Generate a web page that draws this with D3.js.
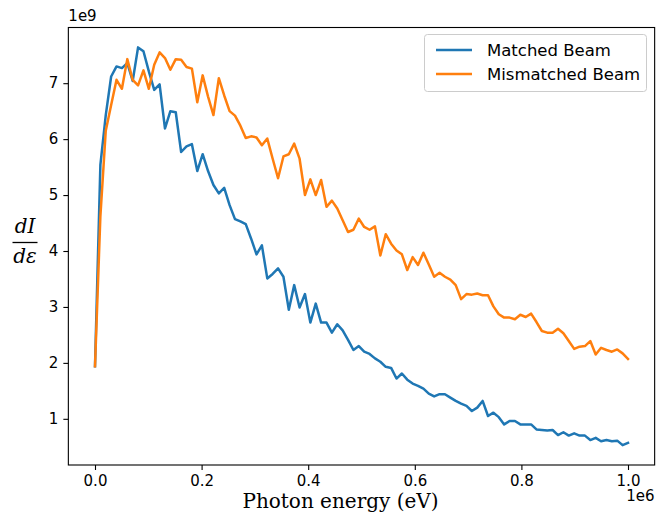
<!DOCTYPE html>
<html>
<head>
<meta charset="utf-8">
<script src="https://cdn.jsdelivr.net/npm/d3@7"></script>
<style>
  html, body { margin: 0; padding: 0; background: #fff; }
  svg { display: block; }
</style>
</head>
<body>
<svg id="chart" width="670" height="523"></svg>
<script>
// Photon energy grid (eV)
const photonEnergy = [
  0, 10101, 20202, 30303, 40404, 50505, 60606, 70707, 80808, 90909,
  101010, 111111, 121212, 131313, 141414, 151515, 161616, 171717, 181818, 191919,
  202020, 212121, 222222, 232323, 242424, 252525, 262626, 272727, 282828, 292929,
  303030, 313131, 323232, 333333, 343434, 353535, 363636, 373737, 383838, 393939,
  404040, 414141, 424242, 434343, 444444, 454545, 464646, 474747, 484848, 494949,
  505051, 515152, 525253, 535354, 545455, 555556, 565657, 575758, 585859, 595960,
  606061, 616162, 626263, 636364, 646465, 656566, 666667, 676768, 686869, 696970,
  707071, 717172, 727273, 737374, 747475, 757576, 767677, 777778, 787879, 797980,
  808081, 818182, 828283, 838384, 848485, 858586, 868687, 878788, 888889, 898990,
  909091, 919192, 929293, 939394, 949495, 959596, 969697, 979798, 989899, 1000000
];

// dI/dε spectra, in units of 1e9
const matchedBeam = [
  1.94, 5.54, 6.43, 7.12, 7.30, 7.27, 7.36, 7.04, 7.64, 7.57,
  7.21, 6.88, 6.98, 6.19, 6.50, 6.48, 5.77, 5.87, 5.91, 5.43,
  5.73, 5.43, 5.18, 5.03, 5.13, 4.82, 4.57, 4.53, 4.48, 4.22,
  3.94, 4.10, 3.51, 3.59, 3.69, 3.54, 2.95, 3.39, 2.99, 3.23,
  2.72, 3.06, 2.72, 2.72, 2.54, 2.69, 2.58, 2.41, 2.23, 2.30,
  2.20, 2.16, 2.08, 2.02, 1.93, 1.91, 1.72, 1.81, 1.70, 1.63,
  1.59, 1.54, 1.45, 1.40, 1.44, 1.44, 1.38, 1.32, 1.27, 1.23,
  1.14, 1.20, 1.32, 1.05, 1.11, 1.03, 0.90, 0.96, 0.96, 0.90,
  0.90, 0.90, 0.81, 0.80, 0.79, 0.80, 0.71, 0.76, 0.70, 0.74,
  0.70, 0.70, 0.62, 0.66, 0.60, 0.62, 0.60, 0.61, 0.53, 0.57
];

const mismatchedBeam = [
  1.94, 4.62, 6.15, 6.61, 7.06, 6.90, 7.43, 7.06, 6.96, 7.23,
  6.90, 7.33, 7.55, 7.45, 7.24, 7.43, 7.42, 7.29, 7.26, 6.66,
  7.14, 6.76, 6.43, 7.09, 6.78, 6.50, 6.42, 6.24, 6.02, 6.05,
  6.03, 5.89, 6.01, 5.65, 5.30, 5.69, 5.73, 5.92, 5.65, 5.00,
  5.28, 5.00, 5.27, 4.79, 4.90, 4.76, 4.55, 4.34, 4.38, 4.58,
  4.43, 4.38, 4.44, 3.92, 4.30, 4.13, 4.01, 3.94, 3.66, 3.89,
  3.75, 3.97, 3.76, 3.54, 3.61, 3.54, 3.49, 3.39, 3.14, 3.23,
  3.22, 3.24, 3.21, 3.21, 3.01, 2.87, 2.81, 2.81, 2.78, 2.86,
  2.82, 2.88, 2.73, 2.57, 2.54, 2.54, 2.61, 2.53, 2.39, 2.25,
  2.29, 2.30, 2.39, 2.15, 2.27, 2.23, 2.20, 2.24, 2.17, 2.07
];

const seriesNames = ["Matched Beam", "Mismatched Beam"];
const seriesColors = ["#1f77b4", "#ff7f0e"];
const xTicks = [0, 200000, 400000, 600000, 800000, 1000000];
const xTickLabels = ["0.0", "0.2", "0.4", "0.6", "0.8", "1.0"];
const yTicks = [1, 2, 3, 4, 5, 6, 7];
const yTickLabels = ["1", "2", "3", "4", "5", "6", "7"];

const svg = d3.select("#chart");
const plot = { left: 68.35, right: 654.65, top: 27.5, bottom: 465 };

// 5% padding around the data range on both axes
function padded(ext) {
  const span = ext[1] - ext[0];
  return [ext[0] - 0.05 * span, ext[1] + 0.05 * span];
}
const x = d3.scaleLinear()
  .domain(padded(d3.extent(photonEnergy)))
  .range([plot.left, plot.right]);
const y = d3.scaleLinear()
  .domain(padded(d3.extent(matchedBeam.concat(mismatchedBeam))))
  .range([plot.bottom, plot.top]);

const tickFont = "DejaVu Sans, sans-serif";
const tickSize = "15px";

// Axes
const xAxis = d3.axisBottom(x)
  .tickValues(xTicks)
  .tickFormat((d, i) => xTickLabels[i])
  .tickSize(5).tickPadding(5);
const yAxis = d3.axisLeft(y)
  .tickValues(yTicks)
  .tickFormat((d, i) => yTickLabels[i])
  .tickSize(5).tickPadding(5);

const gx = svg.append("g")
  .attr("transform", `translate(0,${plot.bottom})`)
  .call(xAxis);
const gy = svg.append("g")
  .attr("transform", `translate(${plot.left},0)`)
  .call(yAxis);

[gx, gy].forEach(g => {
  g.select(".domain").remove();
  g.selectAll(".tick line").attr("stroke", "#000").attr("stroke-width", 1.1);
  g.selectAll(".tick text")
    .attr("fill", "#000")
    .style("font-family", tickFont)
    .style("font-size", tickSize);
});

// Series lines
const line = d3.line()
  .x((d, i) => x(photonEnergy[i]))
  .y(d => y(d));

svg.append("clipPath").attr("id", "plot-clip")
  .append("rect")
  .attr("x", plot.left).attr("y", plot.top)
  .attr("width", plot.right - plot.left)
  .attr("height", plot.bottom - plot.top);

const lines = svg.append("g").attr("clip-path", "url(#plot-clip)");
[matchedBeam, mismatchedBeam].forEach((s, k) => {
  lines.append("path")
    .datum(s)
    .attr("fill", "none")
    .attr("stroke", seriesColors[k])
    .attr("stroke-width", 2.5)
    .attr("stroke-linejoin", "round")
    .attr("stroke-linecap", "square")
    .attr("d", line);
});

// Frame
svg.append("rect")
  .attr("x", plot.left).attr("y", plot.top)
  .attr("width", plot.right - plot.left)
  .attr("height", plot.bottom - plot.top)
  .attr("fill", "none")
  .attr("stroke", "#000")
  .attr("stroke-width", 1.1);

// Offset labels
svg.append("text")
  .attr("x", plot.left).attr("y", 21)
  .style("font-family", tickFont).style("font-size", tickSize)
  .text("1e9");
svg.append("text")
  .attr("x", plot.right).attr("y", 501)
  .attr("text-anchor", "end")
  .style("font-family", tickFont).style("font-size", tickSize)
  .text("1e6");

// Axis titles
svg.append("text")
  .attr("x", 340.5).attr("y", 508)
  .attr("text-anchor", "middle")
  .style("font-family", "DejaVu Serif, serif")
  .style("font-size", "20px")
  .text("Photon energy (eV)");

const yl = svg.append("g").attr("transform", "translate(25,0)");
yl.append("text")
  .attr("x", 0).attr("y", 233)
  .attr("text-anchor", "middle")
  .style("font-family", "DejaVu Serif, serif")
  .style("font-style", "italic")
  .style("font-size", "20px")
  .text("dI");
yl.append("line")
  .attr("x1", -12.5).attr("x2", 12.5)
  .attr("y1", 242.5).attr("y2", 242.5)
  .attr("stroke", "#000").attr("stroke-width", 1.3);
yl.append("text")
  .attr("x", 0).attr("y", 263)
  .attr("text-anchor", "middle")
  .style("font-family", "DejaVu Serif, serif")
  .style("font-style", "italic")
  .style("font-size", "20px")
  .text("dε");

// Legend
const legend = svg.append("g");
legend.append("rect")
  .attr("x", 424.5).attr("y", 34.5)
  .attr("width", 222).attr("height", 57)
  .attr("rx", 3).attr("ry", 3)
  .attr("fill", "#fff").attr("fill-opacity", 0.8)
  .attr("stroke", "#ccc").attr("stroke-width", 1);
seriesNames.forEach((name, k) => {
  const cy = 50 + k * 24;
  legend.append("line")
    .attr("x1", 436).attr("x2", 472)
    .attr("y1", cy).attr("y2", cy)
    .attr("stroke", seriesColors[k]).attr("stroke-width", 2.5);
  legend.append("text")
    .attr("x", 487).attr("y", cy + 5.5)
    .style("font-family", tickFont).style("font-size", "16.5px")
    .attr("fill", "#000")
    .text(name);
});
</script>
</body>
</html>
